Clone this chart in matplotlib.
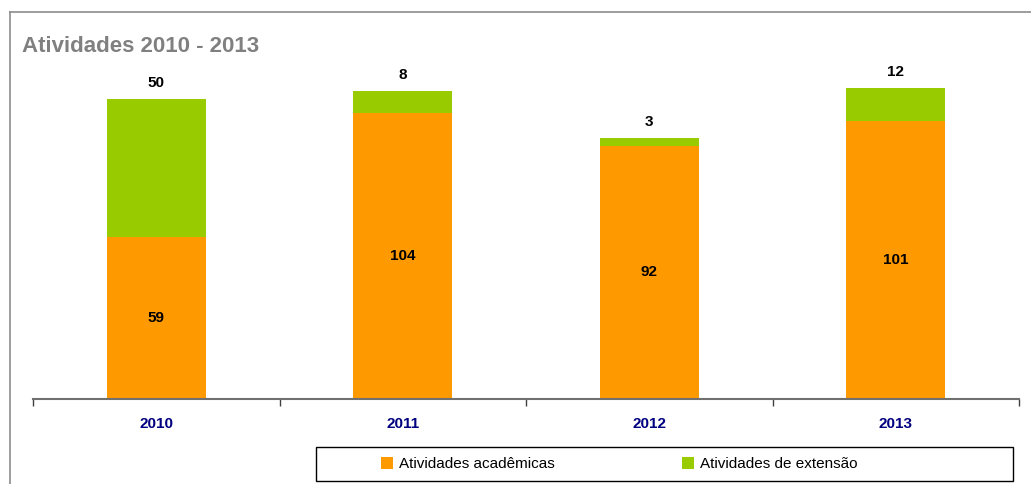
import matplotlib
matplotlib.use("Agg")
import matplotlib.pyplot as plt
from matplotlib.lines import Line2D
from matplotlib.patches import Patch, Rectangle

years = ["2010", "2011", "2012", "2013"]
academicas = [59, 104, 92, 101]
extensao = [50, 8, 3, 12]

ORANGE = "#FF9900"
GREEN = "#99CC00"

plt.rcParams["font.family"] = ["Liberation Sans", "DejaVu Sans"]

W, H = 1031, 484
fig = plt.figure(figsize=(W / 100, H / 100), dpi=100)

# frame
fig.add_artist(Line2D([10 / W, 10 / W], [0, 1 - 12 / H], transform=fig.transFigure, color="#8c8c8c", lw=1.2))
fig.add_artist(Line2D([10 / W, 1], [1 - 12 / H, 1 - 12 / H], transform=fig.transFigure, color="#8c8c8c", lw=1.2))

ax = fig.add_axes([33 / W, 85 / H, (1019 - 33) / W, 330 / H])
x = list(range(len(years)))
ax.bar(x, academicas, width=0.4, color=ORANGE, zorder=2)
ax.bar(x, extensao, width=0.4, bottom=academicas, color=GREEN, zorder=2)

ax.set_xlim(-0.5, len(years) - 0.5)
ax.set_ylim(0, 120)
for s in ["left", "right", "top"]:
    ax.spines[s].set_visible(False)
ax.spines["bottom"].set_color("#707070")
ax.spines["bottom"].set_linewidth(1.5)
ax.set_yticks([])
ax.set_xticks([i - 0.5 for i in range(len(years) + 1)], minor=False)
ax.set_xticklabels([])
ax.tick_params(axis="x", which="major", length=5, width=1, color="#404040")
ax.set_xticks(x, minor=True)
ax.set_xticklabels(years, minor=True, fontsize=11, fontweight="bold", color="#000080")
ax.tick_params(axis="x", which="minor", length=0, pad=13)

for i in x:
    ax.text(i, academicas[i] / 2, str(academicas[i]), ha="center", va="center",
            fontsize=11, fontweight="bold", color="black")
    ax.annotate(str(extensao[i]), (i, academicas[i] + extensao[i]), xytext=(0, 16),
                textcoords="offset pixels", ha="center", va="center",
                fontsize=11, fontweight="bold", color="black")

fig.text(22 / W, 1 - 47 / H, "Atividades 2010 - 2013", fontsize=16, fontweight="bold",
         color="#808080", ha="left", va="center")

# legend box
fig.add_artist(Rectangle((316 / W, 1 - 481 / H), (1013 - 316) / W, 34 / H,
                         transform=fig.transFigure, facecolor="white", edgecolor="black", lw=1.0))
labels = ["Atividades acadêmicas", "Atividades de extensão"]
colors = [ORANGE, GREEN]
xs = [381, 682]
for lab, col, xx in zip(labels, colors, xs):
    fig.legend(handles=[Patch(facecolor=col, label=lab)], loc="center left",
               bbox_to_anchor=(xx / W, 1 - 464 / H), frameon=False, fontsize=11,
               handlelength=0.8, handleheight=0.8, handletextpad=0.35,
               borderpad=0, borderaxespad=0)

fig.savefig("out.png", dpi=100)
